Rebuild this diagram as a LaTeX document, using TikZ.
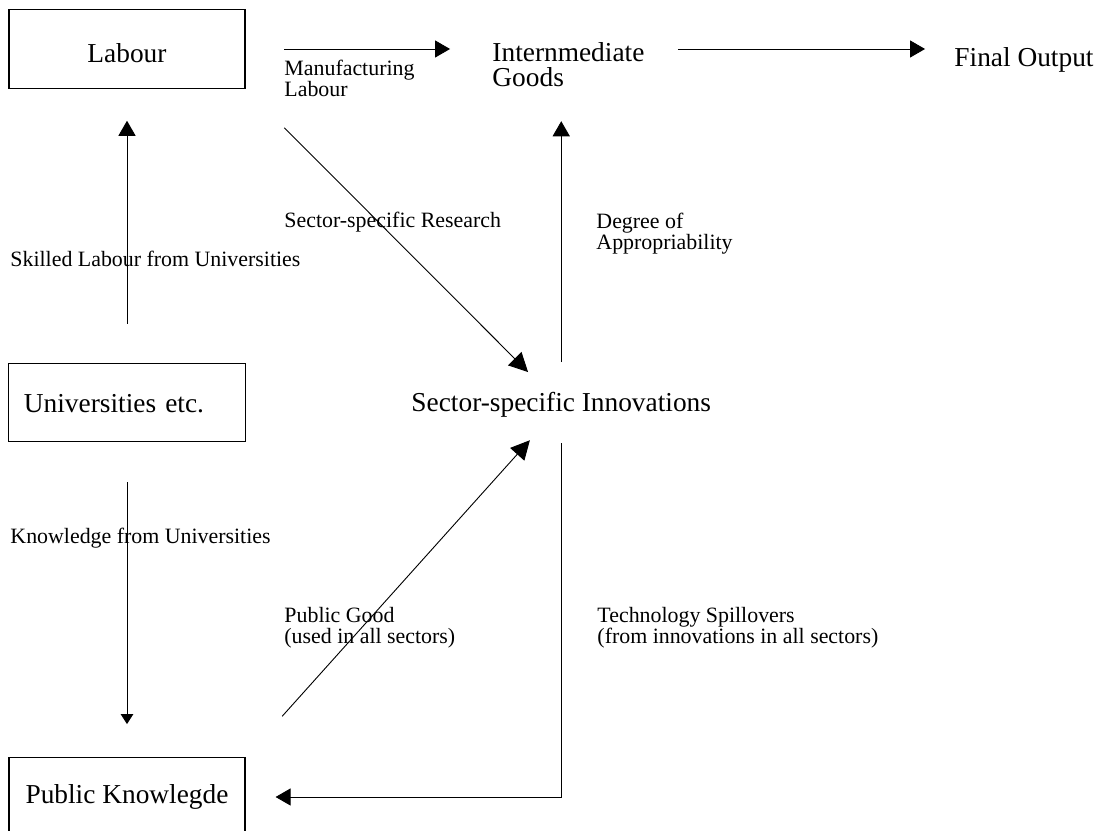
\documentclass[tikz,border=0pt]{standalone}
\usepackage{fontspec}
\setmainfont{Liberation Serif}
\usepackage{xcolor}
\usepackage{tikz}
\usetikzlibrary{arrows.meta}

\newcommand{\bigtxt}{\fontsize{12}{11}\selectfont}
\newcommand{\smalltxt}{\fontsize{9.6}{9.2}\selectfont}

\tikzset{
  box/.style={draw, line width=0.45pt, minimum width=103.5pt, minimum height=34.5pt, inner sep=0pt, font=\bigtxt},
  bigtext/.style={inner sep=0pt, font=\bigtxt},
  smalltext/.style={inner sep=0pt, font=\smalltxt, align=left},
  arr/.style={line width=0.4pt, -{Triangle[length=6.6pt,width=7.5pt]}},
  bigarr/.style={line width=0.4pt, -{Triangle[length=8.3pt,width=8.3pt]}},
  smallarr/.style={line width=0.4pt, -{Triangle[length=4.4pt,width=5.5pt]}},
}

\begin{document}
\begin{tikzpicture}[x=0.4386pt, y=-0.4386pt]
            \useasboundingbox (0,0) rectangle (1099,831);
            \clip (0,0) rectangle (1099,831);
            %绘制左侧三个方框
            \node[box, text height=12pt, text depth=0pt] (labour) at (127,49) {Labour};
            \node[box, text width=90.4pt, inner xsep=6.6pt, align=left, text height=9.2pt, text depth=0pt] (univ) at (127,402.5) {Universities etc.};
            \node[box, text height=6.1pt, text depth=0pt] (pubknow) at (127,797) {Public Knowlegde};
            %绘制其余的大号文字
            \node[bigtext, align=left, anchor=north west] (inter) at (492,42) {Internmediate\\Goods};
            \node[bigtext, anchor=base west] (final) at (954,67) {Final Output};
            \node[bigtext, anchor=base west] (innov) at (411,412) {Sector-specific Innovations};
            %绘制箭头旁的小号说明
            \node[smalltext, anchor=north west] (manlab) at (284,60) {Manufacturing\\Labour};
            \node[smalltext, anchor=base west] (skilled) at (10,267) {Skilled Labour from Universities};
            \node[smalltext, anchor=base west] (research) at (284,228) {Sector-specific Research};
            \node[smalltext, anchor=north west] (approp) at (596,213) {Degree of\\Appropriability};
            \node[smalltext, anchor=base west] (knowuni) at (10,544) {Knowledge from Universities};
            \node[smalltext, anchor=north west] (pubgood) at (284,607) {Public Good\\(used in all sectors)};
            \node[smalltext, anchor=north west] (spill) at (597,607) {Technology Spillovers\\(from innovations in all sectors)};
            %绘制上方一行的箭头
            \draw[arr, shorten <=17.1pt, shorten >=18.4pt] (labour.east) -- (labour.east -| inter.west);
            \draw[arr, shorten <=14.5pt, shorten >=12.7pt] (labour.east -| inter.east) -- (labour.east -| final.west);
            %绘制左侧竖直的箭头
            \draw[arr, shorten <=17.1pt, shorten >=14pt] (univ.north) -- (labour.south);
            \draw[smallarr, shorten <=17.5pt, shorten >=14.5pt] (univ.south) -- (pubknow.north);
            %绘制指向创新的两条斜线
            \draw[bigarr, shorten <=24.1pt, shorten >=20.6pt] (labour.south east) -- (innov.center);
            \draw[bigarr, shorten <=24.1pt, shorten >=20.6pt] (pubknow.north east) -- (innov.center);
            %绘制从创新出发的箭头
            \draw[arr, shorten <=13.2pt, shorten >=14.9pt] (innov.north) -- (innov.north |- inter.south);
            \draw[arr, shorten <=11pt, shorten >=13.2pt] (innov.south) |- (pubknow.east);
        \end{tikzpicture}
\end{document}
